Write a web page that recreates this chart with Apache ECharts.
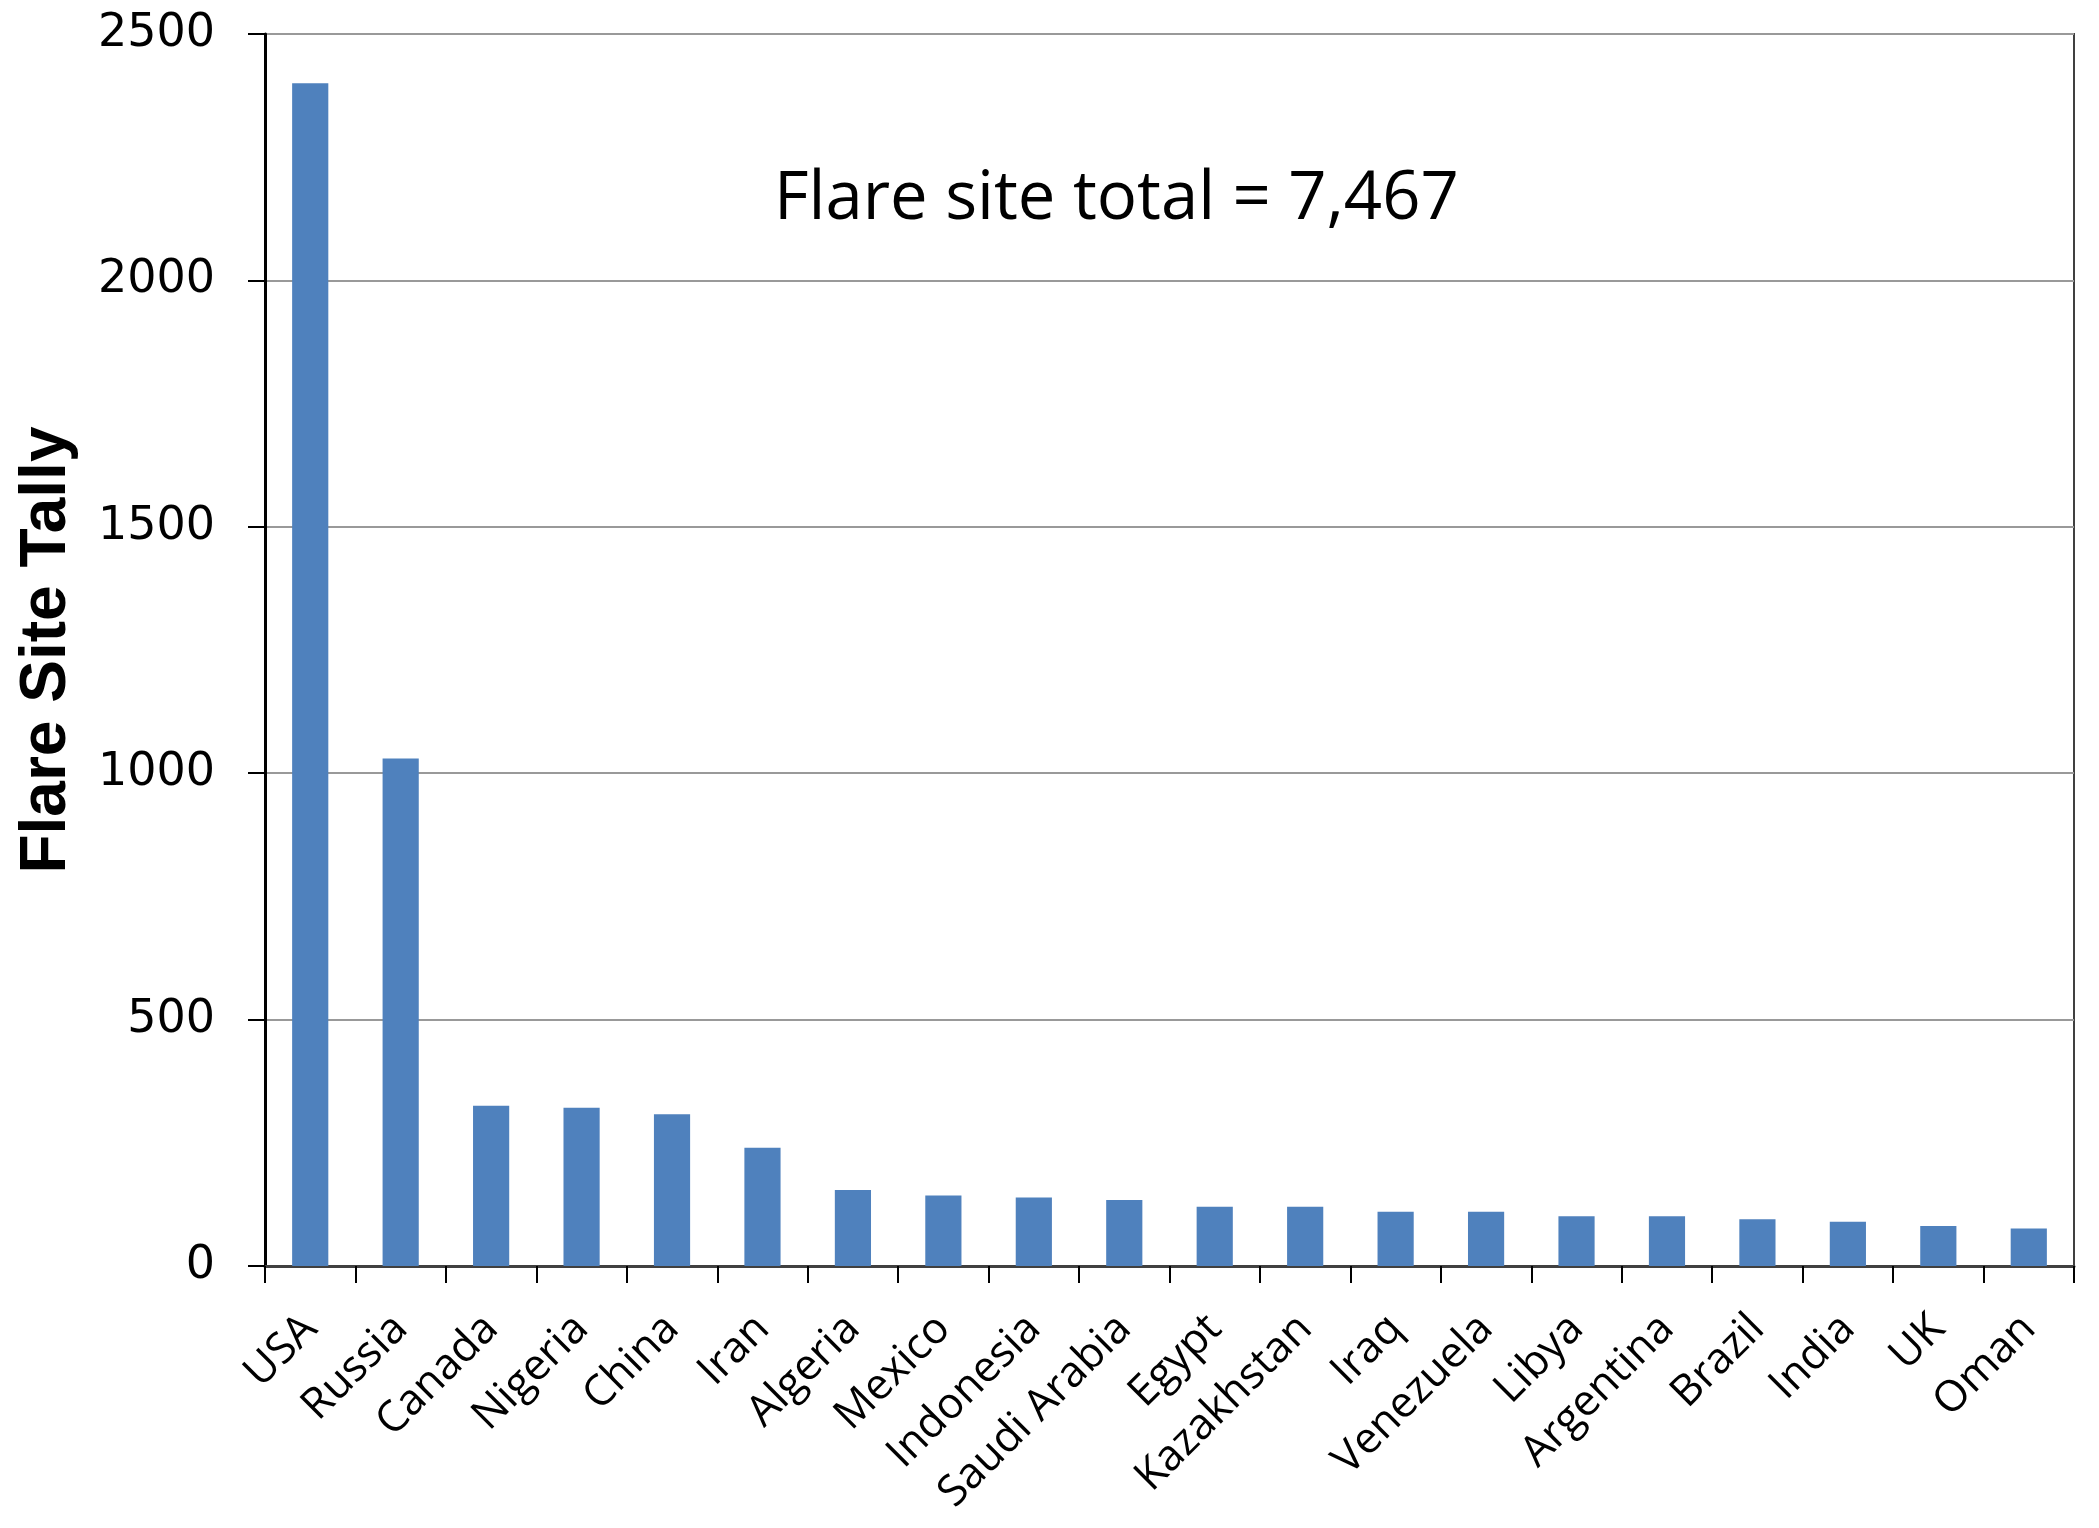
<!DOCTYPE html>
<html><head><meta charset="utf-8">
<script src="https://cdn.jsdelivr.net/npm/echarts@6/dist/echarts.min.js"></script>
<style>html,body{margin:0;padding:0;background:#fff}#c{width:2099px;height:1528px}</style>
</head><body><div id="c"></div>
<script>
const countries = ["USA","Russia","Canada","Nigeria","China","Iran","Algeria","Mexico","Indonesia","Saudi Arabia","Egypt","Kazakhstan","Iraq","Venezuela","Libya","Argentina","Brazil","India","UK","Oman"];
const flareSites = [2400,1030,325,321,308,240,154,143,139,134,120,120,110,110,101,101,95,90,81,76];
const yTicks = {min:0, max:2500, interval:500};
const annotation = "Flare site total = 7,467";

const chart = echarts.init(document.getElementById('c'), null, {renderer:'canvas'});
chart.setOption({
  animation:false,
  backgroundColor:'#fff',
  grid:{left:265, right:25, top:34, bottom:262, show:true, borderColor:'#404040', borderWidth:2},
  xAxis:{type:'category', data:countries,
    axisLine:{lineStyle:{color:'#404040', width:3}},
    axisTick:{show:true, length:17, lineStyle:{color:'#000', width:2}},
    axisLabel:{rotate:45, margin:56, fontFamily:"'Open Sans'", fontSize:43, color:'#000', interval:0}
  },
  yAxis:{type:'value', min:yTicks.min, max:yTicks.max, interval:yTicks.interval,
    name:'Flare Site Tally', nameLocation:'middle', nameGap:186, nameRotate:90,
    nameTextStyle:{fontFamily:"'Liberation Sans'", fontWeight:'bold', fontSize:64, color:'#000'},
    axisLine:{show:true, lineStyle:{color:'#000', width:3}},
    axisTick:{show:true, length:17, lineStyle:{color:'#000', width:2}},
    axisLabel:{fontFamily:"'DejaVu Sans'", fontSize:46, color:'#000', margin:50, formatter: v => String(v)},
    splitLine:{lineStyle:{color:'#999999', width:2}}
  },
  series:[{type:'bar', data:flareSites, barWidth:'40%', itemStyle:{color:'#4F81BD'}}],
  graphic:[{type:'text', left:774, top:166, style:{text:annotation, fontFamily:"'Open Sans'", fontSize:67, fill:'#000'}}]
});
</script></body></html>
